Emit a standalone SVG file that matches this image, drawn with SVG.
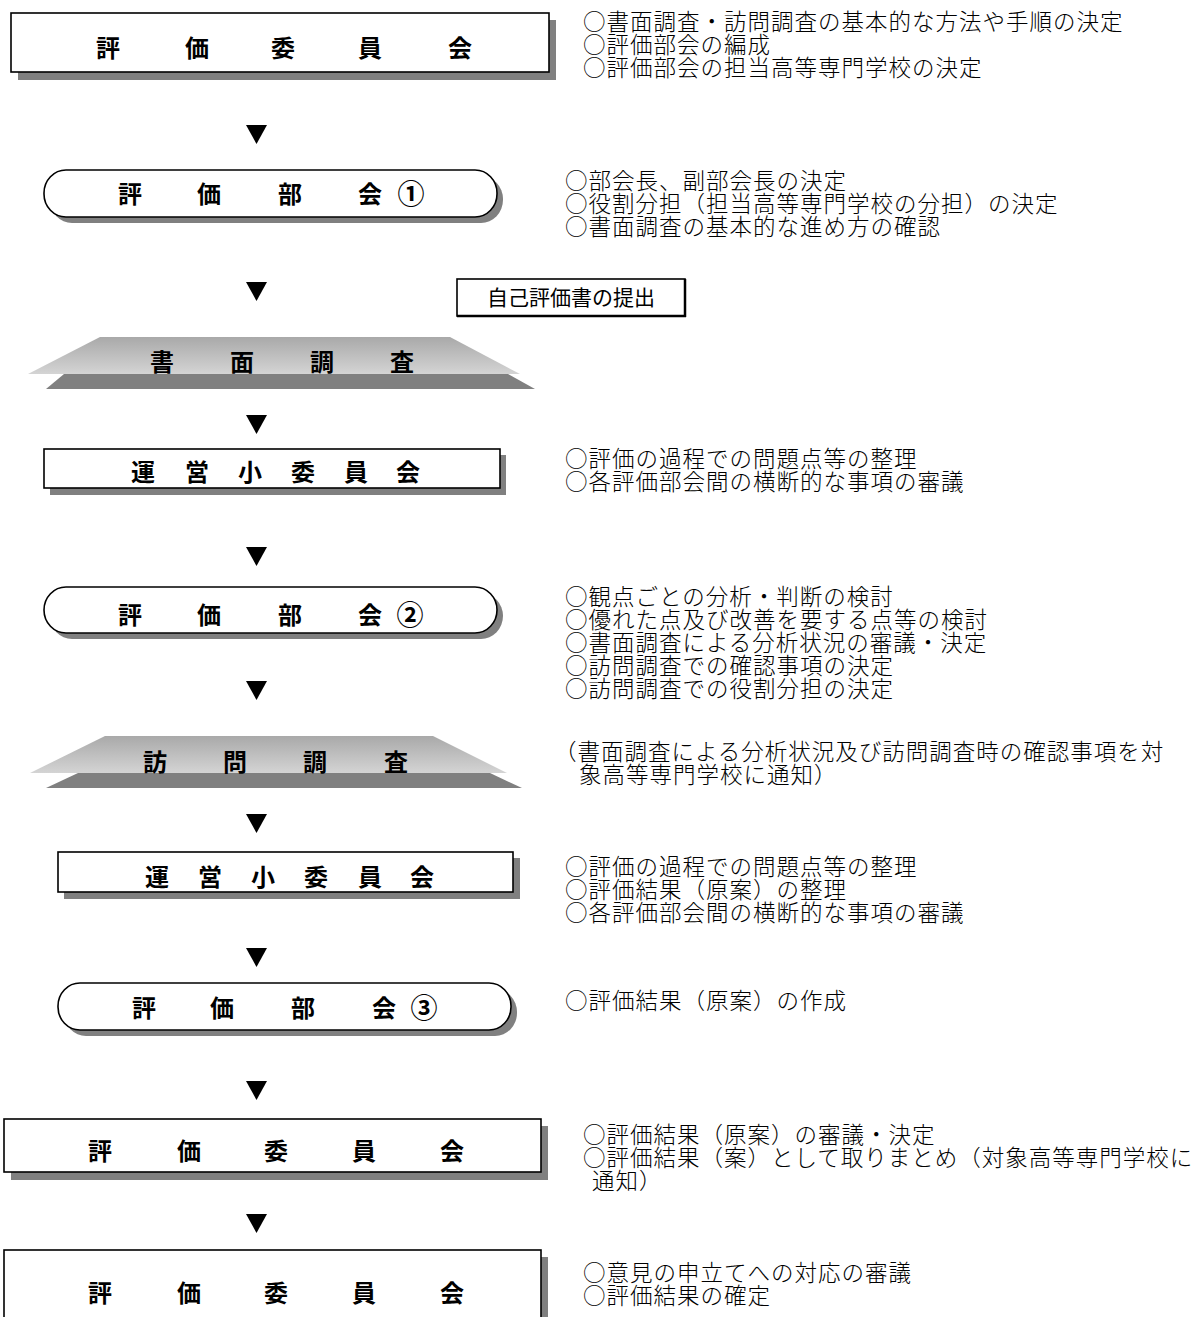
<svg xmlns="http://www.w3.org/2000/svg" width="1202" height="1317" viewBox="0 0 1202 1317">
<defs>
<linearGradient id="trapGrad" x1="0" y1="0" x2="0" y2="1">
<stop offset="0" stop-color="#a9a9a9"/>
<stop offset="1" stop-color="#d4d4d4"/>
</linearGradient>
<style>
.box{fill:#ffffff;stroke:#000000;stroke-width:1.6}
.shadow{fill:#808080}
.title{font-family:"Noto Sans CJK JP","Noto Sans CJK SC",sans-serif;font-weight:700;font-size:24px;fill:#000000;text-anchor:middle}
.num{font-size:27px}
.desc{font-family:"Noto Sans CJK JP","Noto Sans CJK SC",sans-serif;font-weight:300;font-size:22.5px;letter-spacing:1px;fill:#000000}
.tri{fill:#000000}
.trap{fill:url(#trapGrad)}
.note{font-family:"Noto Sans CJK JP","Noto Sans CJK SC",sans-serif;font-weight:400;font-size:21px;fill:#000000;text-anchor:middle}
</style>
</defs>
<rect width="1202" height="1317" fill="#ffffff"/>

<g id="connectors">
<polygon class="tri" points="246,125 267,125 256.5,144"/>
<polygon class="tri" points="246,282 267,282 256.5,301"/>
<polygon class="tri" points="246,415 267,415 256.5,434"/>
<polygon class="tri" points="246,547 267,547 256.5,566"/>
<polygon class="tri" points="246,681 267,681 256.5,700"/>
<polygon class="tri" points="246,814 267,814 256.5,833"/>
<polygon class="tri" points="246,948 267,948 256.5,967"/>
<polygon class="tri" points="246,1081 267,1081 256.5,1100"/>
<polygon class="tri" points="246,1214 267,1214 256.5,1233"/>
</g>

<g id="node-hyoka-iinkai-1">
<rect class="shadow" x="18" y="20" width="538" height="60"/>
<rect class="box" x="11" y="13" width="538" height="59"/>
<text class="title" x="108 197 283 370 460" y="57">評価委員会</text>
<text class="desc" x="583" y="30">○書面調査・訪問調査の基本的な方法や手順の決定</text>
<text class="desc" x="583" y="53">○評価部会の編成</text>
<text class="desc" x="583" y="76">○評価部会の担当高等専門学校の決定</text>
</g>

<g id="node-bukai-1">
<rect class="shadow" x="50" y="176" width="453" height="47" rx="22" ry="23"/>
<rect class="box" x="44" y="170" width="453" height="47" rx="22" ry="23"/>
<text class="title" x="130 209 290 370" y="203">評価部会</text>
<text class="title num" x="411" y="204">①</text>
<text class="desc" x="565" y="189">○部会長、副部会長の決定</text>
<text class="desc" x="565" y="212">○役割分担（担当高等専門学校の分担）の決定</text>
<text class="desc" x="565" y="235">○書面調査の基本的な進め方の確認</text>
</g>

<g id="node-jiko-hyoka">
<rect x="457" y="279" width="228" height="37" fill="#ffffff" stroke="#000000" stroke-width="1.6"/>
<line x1="685" y1="279" x2="685" y2="317" stroke="#000000" stroke-width="2.5"/>
<line x1="457" y1="316" x2="686" y2="316" stroke="#000000" stroke-width="2.5"/>
<text class="note" x="571" y="305">自己評価書の提出</text>
</g>

<g id="node-shomen-chosa">
<polygon class="shadow" points="64,374 508,374 535,389 46,389"/>
<polygon class="trap" points="100,337 450,337 520,374 28,374"/>
<text class="title" x="162 242 322 402" y="371">書面調査</text>
</g>

<g id="node-unei-1">
<rect class="shadow" x="50" y="455" width="456" height="40"/>
<rect class="box" x="44" y="449" width="456" height="39"/>
<text class="title" x="143 197 250 303 356 408" y="481">運営小委員会</text>
<text class="desc" x="565" y="467">○評価の過程での問題点等の整理</text>
<text class="desc" x="565" y="490">○各評価部会間の横断的な事項の審議</text>
</g>

<g id="node-bukai-2">
<rect class="shadow" x="50" y="593" width="453" height="46" rx="22" ry="23"/>
<rect class="box" x="44" y="587" width="453" height="46" rx="22" ry="23"/>
<text class="title" x="130 209 290 370" y="624">評価部会</text>
<text class="title num" x="410" y="625">②</text>
<text class="desc" x="565" y="605">○観点ごとの分析・判断の検討</text>
<text class="desc" x="565" y="628">○優れた点及び改善を要する点等の検討</text>
<text class="desc" x="565" y="651">○書面調査による分析状況の審議・決定</text>
<text class="desc" x="565" y="674">○訪問調査での確認事項の決定</text>
<text class="desc" x="565" y="697">○訪問調査での役割分担の決定</text>
</g>

<g id="node-homon-chosa">
<polygon class="shadow" points="78,773 490,773 522,788 46,788"/>
<polygon class="trap" points="105,736 433,736 507,773 30,773"/>
<text class="title" x="155 235 315 396" y="771">訪問調査</text>
<text class="desc" x="554" y="760">（書面調査による分析状況及び訪問調査時の確認事項を対</text>
<text class="desc" x="579" y="783">象高等専門学校に通知）</text>
</g>

<g id="node-unei-2">
<rect class="shadow" x="64" y="858" width="456" height="41"/>
<rect class="box" x="58" y="852" width="455" height="40"/>
<text class="title" x="157 210 263 316 370 422" y="886">運営小委員会</text>
<text class="desc" x="565" y="875">○評価の過程での問題点等の整理</text>
<text class="desc" x="565" y="898">○評価結果（原案）の整理</text>
<text class="desc" x="565" y="921">○各評価部会間の横断的な事項の審議</text>
</g>

<g id="node-bukai-3">
<rect class="shadow" x="64" y="989" width="453" height="47" rx="22" ry="23"/>
<rect class="box" x="58" y="983" width="453" height="47" rx="22" ry="23"/>
<text class="title" x="144 222 303 384" y="1017">評価部会</text>
<text class="title num" x="424" y="1018">③</text>
<text class="desc" x="565" y="1009">○評価結果（原案）の作成</text>
</g>

<g id="node-hyoka-iinkai-2">
<rect class="shadow" x="11" y="1126" width="537" height="54"/>
<rect class="box" x="4" y="1119" width="537" height="53"/>
<text class="title" x="100 189 276 364 452" y="1160">評価委員会</text>
<text class="desc" x="583" y="1143">○評価結果（原案）の審議・決定</text>
<text class="desc" x="583" y="1166">○評価結果（案）として取りまとめ（対象高等専門学校に</text>
<text class="desc" x="592" y="1189">通知）</text>
</g>

<g id="node-hyoka-iinkai-3">
<rect class="shadow" x="11" y="1257" width="537" height="70"/>
<rect class="box" x="4" y="1250" width="537" height="80"/>
<text class="title" x="100 189 276 364 452" y="1302">評価委員会</text>
<text class="desc" x="583" y="1281">○意見の申立てへの対応の審議</text>
<text class="desc" x="583" y="1304">○評価結果の確定</text>
</g>
</svg>
